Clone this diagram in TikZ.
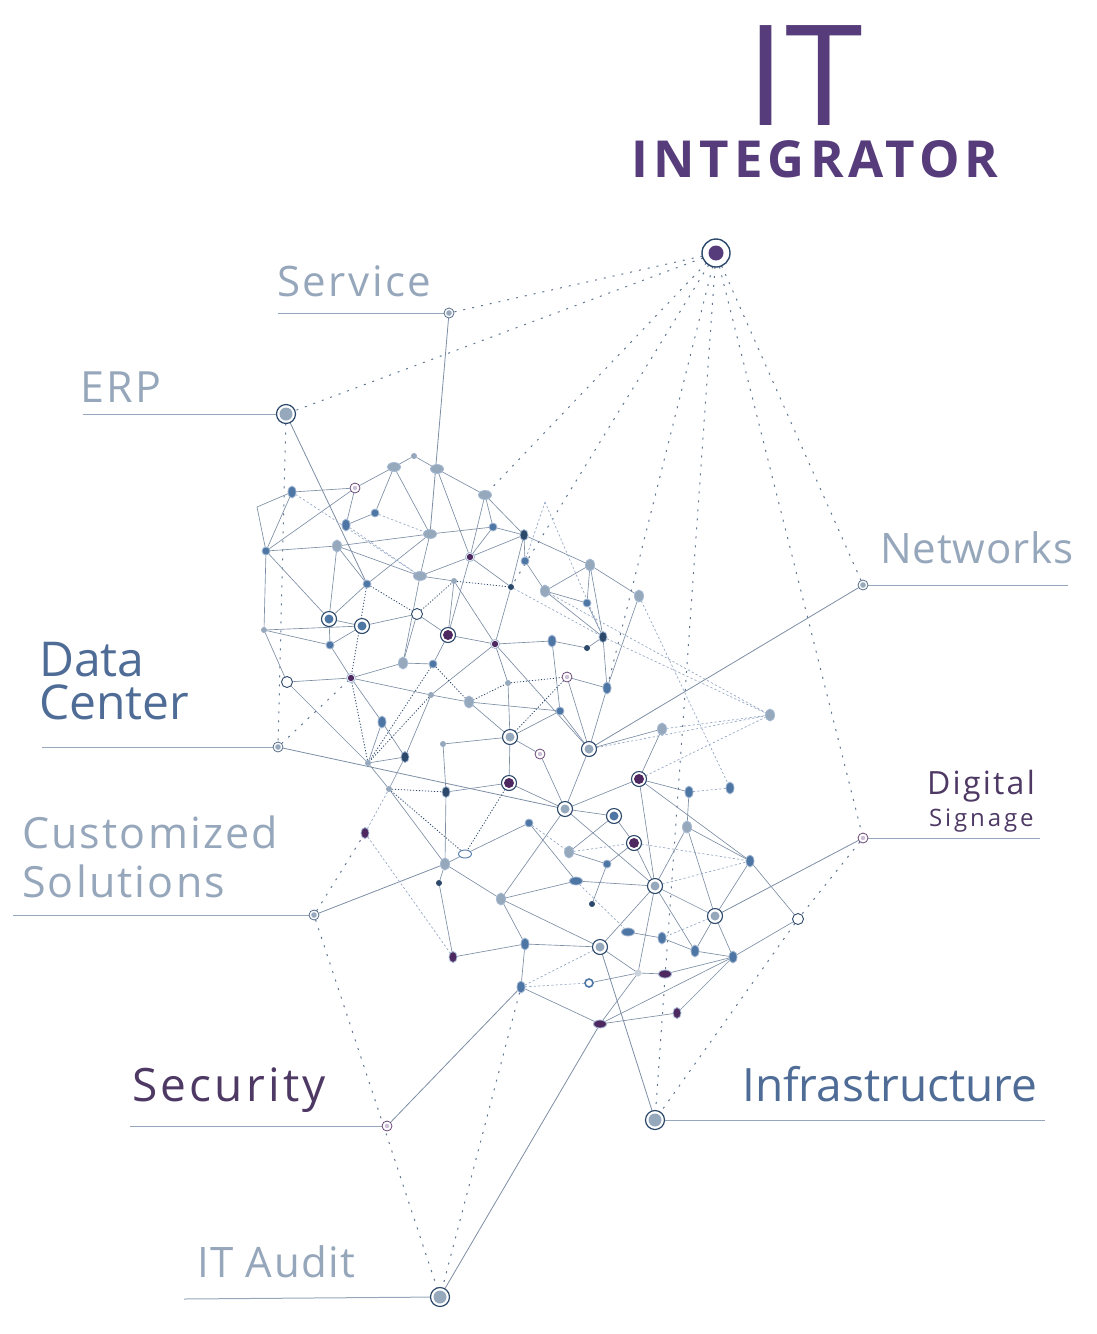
\documentclass[tikz,border=0pt]{standalone}
\usepackage{fontspec}
\setmainfont{Open Sans}
\usetikzlibrary{shapes.geometric, backgrounds}

\definecolor{navy}{RGB}{44,72,107}
\definecolor{ringgrey}{RGB}{150,168,188}
\definecolor{dotblue}{RGB}{77,118,165}
\definecolor{edgeblue}{RGB}{165,185,210}
\definecolor{deeppur}{RGB}{78,40,96}
\definecolor{titlepur}{RGB}{86,60,122}
\definecolor{lblgrey}{RGB}{150,167,187}
\definecolor{lblblue}{RGB}{78,108,150}
\definecolor{lblpur}{RGB}{78,56,100}
\definecolor{linkc}{RGB}{125,142,165}
\definecolor{dashc}{RGB}{150,168,198}
\definecolor{softpink}{RGB}{205,190,215}

\tikzset{
  mk/.style={inner sep=0pt, outer sep=0pt},
  mkcore/.style 2 args={path picture={\fill[#1] (path picture bounding box.center) circle (#2);}},
  mkhub/.style={mk, circle, minimum size=28pt, draw=navy, line width=1.4pt, fill=white, mkcore={titlepur}{7.5pt}},
  mkbig/.style={mk, circle, minimum size=19pt, draw=navy, line width=1.2pt, fill=white, mkcore={ringgrey}{6.5pt}},
  mkring/.style={mk, circle, minimum size=15pt, draw=navy, line width=1.1pt, fill=white, mkcore={ringgrey}{4.5pt}},
  mkringb/.style={mkring, mkcore={dotblue}{4.5pt}},
  mkpurbig/.style={mkring, mkcore={deeppur}{5pt}},
  mksm/.style={mk, circle, minimum size=10pt, draw=navy!80, line width=0.8pt, fill=white, mkcore={ringgrey}{2.8pt}},
  mkpr/.style={mk, circle, minimum size=10pt, draw=deeppur!85, line width=0.8pt, fill=white, mkcore={softpink}{2.2pt}},
  mkpsm/.style={mk, circle, minimum size=9pt, draw=edgeblue, line width=0.8pt, fill=white, mkcore={deeppur}{3.2pt}},
  mkhol/.style={mk, circle, minimum size=11pt, draw=navy, line width=0.9pt, fill=white},
  mkholb/.style={mk, circle, minimum size=8pt, draw=dotblue, line width=1.6pt, fill=white},
  mkhole/.style={mk, ellipse, minimum width=13pt, minimum height=8pt, draw=dotblue, line width=0.9pt, fill=white},
  mkdot/.style={mk, circle, minimum size=8pt, draw=edgeblue, line width=0.8pt, fill=dotblue},
  mkdk/.style={mk, circle, minimum size=6pt, fill=navy},
  mktiny/.style={mk, circle, minimum size=6pt, fill=ringgrey},
  mklt/.style={mk, circle, minimum size=7pt, fill=ringgrey!50},
  mkeg/.style={mk, ellipse, minimum width=9pt, minimum height=12pt, draw=edgeblue, line width=0.8pt, fill=ringgrey},
  mkegh/.style={mk, ellipse, minimum width=13pt, minimum height=9pt, draw=edgeblue, line width=0.8pt, fill=ringgrey},
  mkeb/.style={mk, ellipse, minimum width=8pt, minimum height=12pt, draw=edgeblue, line width=0.8pt, fill=dotblue},
  mkebh/.style={mk, ellipse, minimum width=13pt, minimum height=8pt, draw=edgeblue, line width=0.8pt, fill=dotblue},
  mkedk/.style={mk, ellipse, minimum width=8pt, minimum height=11pt, draw=edgeblue, line width=0.8pt, fill=navy},
  mkep/.style={mk, ellipse, minimum width=8pt, minimum height=11pt, draw=edgeblue, line width=0.8pt, fill=deeppur},
  mkeph/.style={mk, ellipse, minimum width=13pt, minimum height=8pt, draw=edgeblue, line width=0.8pt, fill=deeppur},
  link/.style={draw=linkc, line width=0.65pt},
  dlink/.style={draw=navy, line width=0.8pt, dash pattern=on 1.2pt off 1.8pt},
  flink/.style={draw=dashc, line width=0.7pt, dash pattern=on 2.2pt off 2.2pt},
  spoke/.style={draw=linkc, line width=0.8pt},
  dspoke/.style={draw=navy!75, line width=1pt, dash pattern=on 2pt off 7pt},
  lead/.style={draw=lblgrey, line width=1pt},
  lbl/.style={anchor=base west, inner sep=0pt}
}

\def\meshnodes{a1/414/456/mktiny, a2/394/467/mkegh, a3/437/469/mkegh, a4/292/492/mkeb,
  a5/355/488/mkpr, a6/485/495/mkegh, a7/375/513/mkdot, a8/346/525/mkeb, a9/430/534/mkegh,
  a10/493/527/mkdot, a11/524/535/mkedk, a12/266/551/mkdot, a13/337/546/mkeg, a14/470/557/mkpsm,
  a15/525/561/mkdot, a16/590/565/mkeg, a17/367/584/mkdot, a18/420/576/mkegh, a19/454/581/mktiny,
  a20/511/587/mkdk, a21/545/591/mkeg, a22/587/603/mkdot, a23/639/596/mkeg, a24/329/619/mkringb,
  a25/362/626/mkringb, a26/417/614/mkhol, a27/264/630/mktiny, a28/448/635/mkpurbig, a29/495/644/mkpsm,
  a30/552/641/mkeb, a31/587/648/mkdk, a32/603/637/mkedk, a33/330/645/mkdot, a34/287/682/mkhol,
  a35/351/678/mkpsm, a36/403/663/mkeg, a37/433/664/mkdot, a38/567/677/mkpr, a39/508/683/mktiny,
  a40/607/688/mkeb, a41/431/695/mktiny, a42/469/702/mkeg, a43/560/711/mkdot, a44/382/722/mkeb,
  a45/510/737/mkring, a46/589/749/mkring, a47/540/754/mkpr, a49/368/763/mktiny, a50/405/757/mkedk,
  a51/443/744/mktiny, a52/662/729/mkeg, a53/770/715/mkeg, a54/639/779/mkpurbig, a55/689/792/mkeb,
  a56/730/788/mkeb, a57/509/783/mkpurbig, a58/389/789/mktiny, a59/446/792/mkedk, a60/565/809/mkring,
  a61/614/816/mkringb, a62/529/823/mkdot, a63/634/843/mkpurbig, a64/687/827/mkeg, a65/365/833/mkep,
  a66/465/854/mkhole, a67/445/864/mkeg, a68/569/852/mkeg, a69/607/864/mkdot, a70/750/861/mkeb,
  a71/439/883/mkdk, a72/576/881/mkebh, a73/655/886/mkring, a74/592/904/mkdk, a75/501/899/mkeg,
  a76/715/916/mkring, a77/798/919/mkhol, a78/628/932/mkebh, a79/662/938/mkeb, a80/695/951/mkeb,
  a81/733/957/mkeb, a82/525/944/mkeb, a83/600/947/mkring, a84/453/957/mkep, a85/638/973/mklt,
  a86/665/974/mkeph, a87/589/983/mkholb, a88/521/987/mkeb, a89/677/1013/mkep, a90/600/1024/mkeph}

\begin{document}
\begin{tikzpicture}[x=1pt, y=-1pt]
  \useasboundingbox (0,0) rectangle (1097,1334);

  % title
  \node[lbl, text=titlepur, font=\fontsize{140}{140}\selectfont] (title-it) at (746,125) {IT};
  \node[lbl, text=titlepur, font=\fontsize{51}{51}\selectfont\bfseries\addfontfeature{LetterSpace=10}] (title-int) at (631,177) {INTEGRATOR};

  % label end points
  \node[mkhub] (hub) at (716,253) {};
  \node[mksm] (svc) at (449,313) {};
  \node[mkbig] (erp) at (286,414) {};
  \node[mksm] (net) at (863,585) {};
  \node[mksm] (dc) at (278,747) {};
  \node[mksm] (cus) at (314,915) {};
  \node[mkpr] (dig) at (863,838) {};
  \node[mkpr] (sec) at (387,1126) {};
  \node[mkbig] (inf) at (655,1120) {};
  \node[mkbig] (aud) at (440,1297) {};
  \coordinate (c1) at (257,507);
  \coordinate (apex) at (545,502);

  % mesh
  \foreach \n/\x/\y/\k in \meshnodes
    \node[\k] (\n) at (\x,\y) {};

  % labels
  \node[lbl, text=lblgrey, font=\fontsize{42}{42}\selectfont\addfontfeature{LetterSpace=6}] (lbl-svc) at (277,296) {Service};
  \node[lbl, text=lblgrey, font=\fontsize{43}{43}\selectfont\addfontfeature{LetterSpace=6}] (lbl-erp) at (80,402) {ERP};
  \node[lbl, text=lblgrey, font=\fontsize{42}{42}\selectfont\addfontfeature{LetterSpace=2}] (lbl-net) at (880,563) {Networks};
  \node[lbl, text=lblblue, align=left, font=\fontsize{48}{43}\selectfont] (lbl-dc) at (39,719) {Data\\Center};
  \node[lbl, text=lblgrey, align=left, font=\fontsize{43}{49}\selectfont\addfontfeature{LetterSpace=5}] (lbl-cus) at (22,897) {Customized\\Solutions};
  \node[lbl, text=lblpur, font=\fontsize{32}{32}\selectfont\addfontfeature{LetterSpace=7}] (lbl-dig) at (927,794) {Digital};
  \node[lbl, text=lblpur, font=\fontsize{24}{24}\selectfont\addfontfeature{LetterSpace=12}] (lbl-sign) at (929,826) {Signage};
  \node[lbl, text=lblpur, font=\fontsize{46}{46}\selectfont\addfontfeature{LetterSpace=7}] (lbl-sec) at (132,1101) {Security};
  \node[lbl, text=lblblue, font=\fontsize{46}{46}\selectfont] (lbl-inf) at (742,1101) {Infrastructure};
  \node[lbl, text=lblgrey, font=\fontsize{42}{42}\selectfont\addfontfeature{LetterSpace=3.5}] (lbl-aud) at (197,1277) {IT Audit};

  \begin{scope}[on background layer]
    % underlines
    \coordinate (svc-l) at (278,313);
    \coordinate (erp-l) at (83,414);
    \coordinate (net-r) at (1068,585);
    \coordinate (dc-l) at (42,747);
    \coordinate (cus-l) at (13,915);
    \coordinate (dig-r) at (1040,838);
    \coordinate (sec-l) at (130,1126);
    \coordinate (inf-r) at (1045,1120);
    \coordinate (aud-l) at (184,1299);
    \foreach \a/\b in {svc-l/svc, erp-l/erp, net/net-r, dc-l/dc, cus-l/cus, dig/dig-r, sec-l/sec, inf/inf-r, aud-l/aud}
      \draw[lead] (\a) -- (\b);

    % spokes
    \foreach \a/\b in {svc/a9, erp/a17, dc/a60, cus/a67, sec/a88, aud/a90, inf/a83, dig/a76, net/a46}
      \draw[spoke] (\a) -- (\b);
    \foreach \a/\b in {hub/svc, hub/erp, hub/a6, hub/a20, hub/a40, hub/inf, hub/dig, hub/net,
      erp/dc, cus/aud, a88/aud, a77/inf, dig/a77, cus/a65, dc/a35}
      \draw[dspoke] (\a) -- (\b);

    % mesh links
    \foreach \a/\b in {c1/a4, c1/a12, a1/a2, a1/a3, a2/a5, a4/a5, a3/a6, a2/a7, a2/a9, a3/a14,
      a4/a12, a5/a8, a5/a12, a8/a7, a12/a13, a13/a9, a13/a18, a12/a27, a12/a24, a13/a24, a13/a17,
      a9/a17, a9/a18, a14/a18, a14/a6, a14/a10, a14/a11, a6/a11, a6/a10, a10/a11, a9/a10,
      a11/a16, a11/a15, a11/a20, a15/a21, a16/a21, a16/a22, a16/a23, a16/a32, a21/a22, a21/a32,
      a23/a40, a14/a20, a14/a28, a18/a19, a19/a28, a19/a29, a20/a29, a22/a32, a30/a31, a31/a32,
      a30/a43, a32/a40, a40/a38, a17/a24, a24/a25, a24/a33, a25/a33, a25/a26, a27/a33, a27/a25,
      a27/a34, a33/a35, a34/a35, a34/a49, a26/a28, a26/a36, a28/a29, a28/a37, a29/a30, a29/a39,
      a29/a41, a29/a46, a35/a36, a35/a41, a35/a44, a36/a37, a36/a18, a39/a45, a42/a43, a42/a45,
      a41/a42, a41/a50, a43/a45, a43/a46, a40/a46, a44/a49, a44/a50, a45/a51, a45/a47, a49/a50,
      a50/a58, a49/a58, a59/a57, a59/a67, a58/a67, a57/a60, a47/a60, a60/a61, a61/a63, a60/a75,
      a60/a73, a60/a54, a54/a73, a54/a70, a64/a70, a64/a73, a64/a76, a70/a76, a73/a76, a73/a80,
      a73/a83, a73/a85, a76/a80, a76/a81, a70/a77, a77/a81, a62/a72, a68/a69, a69/a63, a69/a74,
      a72/a73, a75/a72, a67/a66, a66/a62, a67/a71, a67/a75, a71/a84, a84/a82, a75/a82, a75/a83,
      a82/a83, a82/a88, a83/a85, a85/a86, a86/a81, a88/a90, a90/a89, a90/a81, a89/a81, a78/a79,
      a79/a80, a80/a81, a85/a90, a46/a60, a46/a52, a52/a54, a54/a55, a55/a64, a63/a73, a61/a68,
      a51/a59, a45/a57, a85/a87, a46/a38}
      \draw[link] (\a) -- (\b);
    \foreach \a/\b in {a17/a26, a26/a19, a17/a35, a35/a49, a19/a20, a37/a42, a42/a39, a39/a38,
      a38/a45, a37/a49, a41/a49, a58/a59, a58/a66, a57/a66}
      \draw[dlink] (\a) -- (\b);
    \foreach \a/\b in {a4/a18, a8/a18, a7/a9, a20/a32, a21/a53, a32/a53, a52/a53, a46/a53, a54/a53,
      a55/a56, a23/a56, apex/a15, apex/a32, a63/a70, a73/a70, a79/a76, a88/a87, a88/a83, a65/a84,
      a62/a68, a68/a63, a72/a78, a65/a58}
      \draw[flink] (\a) -- (\b);
  \end{scope}
\end{tikzpicture}
\end{document}
